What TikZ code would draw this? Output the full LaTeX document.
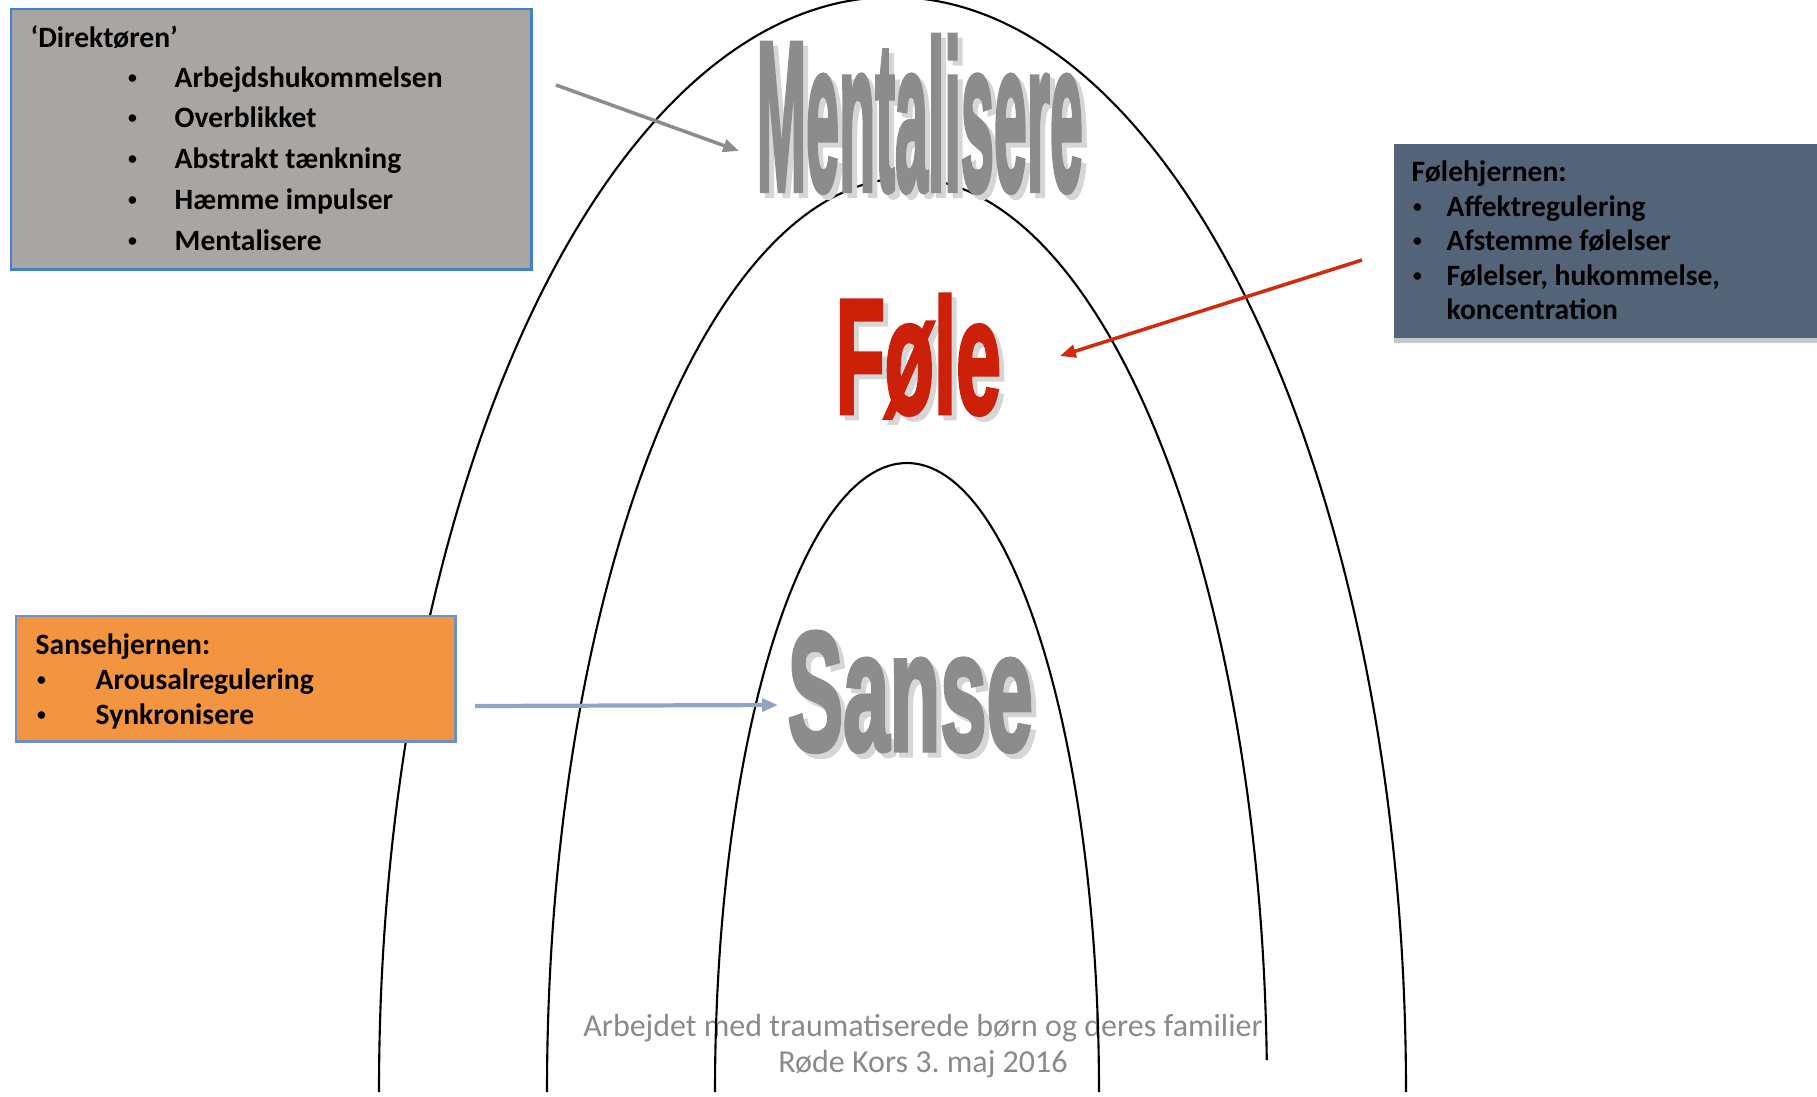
\documentclass[tikz,border=0pt]{standalone}
\usepackage{fontspec}
\setmainfont{Carlito}
\newfontfamily\heavyfont[FakeBold=3]{Liberation Sans Bold}
\usetikzlibrary{arrows.meta,shadows}

\definecolor{dirgray}{HTML}{A9A5A3}
\definecolor{dirblue}{HTML}{3F82C8}
\definecolor{slate}{HTML}{536479}
\definecolor{sansorange}{HTML}{F29440}
\definecolor{sansblue}{HTML}{6E90C8}
\definecolor{wordgray}{HTML}{8C8C8C}
\definecolor{shadowgray}{HTML}{D6D6D6}
\definecolor{folered}{HTML}{D42A0C}
\definecolor{foletext}{HTML}{CC2008}
\definecolor{arrowblue}{HTML}{8EA5C4}
\definecolor{footgray}{HTML}{8A8A8A}

\newcommand{\bul}[2]{\makebox[#1][l]{\hspace{1pt}\raisebox{0.25ex}{\scalebox{0.6}{\textbullet}}}#2}

\begin{document}
\begin{tikzpicture}[x=0.01cm,y=-0.01cm,
    arcline/.style={line width=0.6pt},
    bigword/.style={anchor=base west, inner sep=0pt},
    boxtext/.style={anchor=base west, inner sep=0pt, font=\bfseries\fontsize{8.4}{10}\selectfont},
    footer/.style={anchor=base, inner sep=0pt, text=footgray, font=\fontsize{9.1}{10}\selectfont},
    tip/.style={-{Triangle[length=4.5pt,width=3.6pt]}}]
  \useasboundingbox (0,0) rectangle (1817,1096);

  \node[footer] (credit) at (923,1036) {Arbejdet med traumatiserede børn og deres familier};
  \node[footer] (credittwo) at (923,1072) {Røde Kors 3.\ maj 2016};

  \draw[arcline] (379,1092) arc[start angle=180, end angle=360, x radius=513.5, y radius=1095];
  \draw[arcline] (547,1092) arc[start angle=180, end angle=358, x radius=360, y radius=914];
  \draw[arcline] (715,1092) arc[start angle=180, end angle=360, x radius=192, y radius=629];

  \node[bigword, text=shadowgray] (mentalshadow) at (761,195) {\resizebox{3.26cm}{1.54cm}{\heavyfont Mentalisere}};
  \node[bigword, text=wordgray] (mental) at (756,190) {\resizebox{3.26cm}{1.54cm}{\heavyfont Mentalisere}};
  \node[bigword, text=shadowgray] (foleshadow) at (840,418) {\resizebox{1.65cm}{1.18cm}{\heavyfont Føle}};
  \node[bigword, text=foletext] (fole) at (835,413) {\resizebox{1.65cm}{1.18cm}{\heavyfont Føle}};
  \node[bigword, text=shadowgray] (sanseshadow) at (792,755) {\resizebox{2.45cm}{1.18cm}{\heavyfont Sanse}};
  \node[bigword, text=wordgray] (sanse) at (787,750) {\resizebox{2.45cm}{1.18cm}{\heavyfont Sanse}};

  \node[draw=dirblue, line width=0.7pt, fill=dirgray, anchor=north west,
    minimum width=5.2cm, minimum height=2.6cm] (direktor) at (10,8) {};
  \node[boxtext] (dtitle) at (30,47) {‘Direktøren’};
  \node[boxtext] (done) at (124,87) {\bul{0.5cm}{Arbejdshukommelsen}};
  \node[boxtext] (dtwo) at (124,127) {\bul{0.5cm}{Overblikket}};
  \node[boxtext] (dthree) at (124,168) {\bul{0.5cm}{Abstrakt tænkning}};
  \node[boxtext] (dfour) at (124,209) {\bul{0.5cm}{Hæmme impulser}};
  \node[boxtext] (dfive) at (124,250) {\bul{0.5cm}{Mentalisere}};

  \node[fill=slate, anchor=north west, minimum width=4.35cm, minimum height=1.94cm,
    drop shadow={shadow xshift=0pt, shadow yshift=-1.6pt, opacity=0.45}] (folebox) at (1393,143) {};
  \node[boxtext] (ftitle) at (1411,181) {Følehjernen:};
  \node[boxtext] (fone) at (1409,216) {\bul{0.37cm}{Affektregulering}};
  \node[boxtext] (ftwo) at (1409,250) {\bul{0.37cm}{Afstemme følelser}};
  \node[boxtext] (fthree) at (1409,285) {\bul{0.37cm}{Følelser, hukommelse,}};
  \node[boxtext] (ffour) at (1446,319) {koncentration};

  \node[draw=sansblue, line width=0.7pt, fill=sansorange, anchor=north west,
    minimum width=4.39cm, minimum height=1.25cm] (sansebox) at (15,615) {};
  \node[boxtext] (stitle) at (35,654) {Sansehjernen:};
  \node[boxtext] (sone) at (33,689) {\bul{0.62cm}{Arousalregulering}};
  \node[boxtext] (stwo) at (33,724) {\bul{0.62cm}{Synkronisere}};

  \coordinate (dirout) at (556,85);
  \coordinate (mentalin) at (739,151);
  \coordinate (foleout) at (1362,260);
  \coordinate (folein) at (1060,356);
  \coordinate (sanseout) at (475,706);
  \coordinate (sansein) at (778,705);
  \draw[tip, wordgray, line width=1pt] (dirout) -- (mentalin);
  \draw[tip, folered, line width=1pt] (foleout) -- (folein);
  \draw[tip, arrowblue, line width=1.2pt] (sanseout) -- (sansein);
\end{tikzpicture}
\end{document}
